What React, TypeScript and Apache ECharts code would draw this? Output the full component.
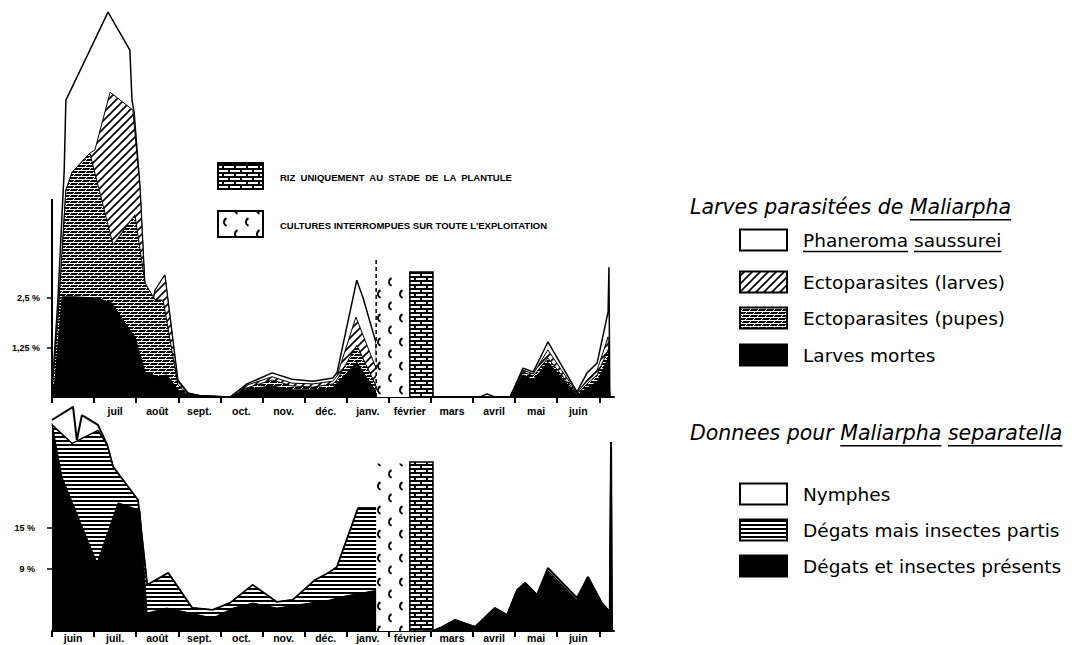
import React, { useEffect, useRef } from 'react';
import * as echarts from 'echarts';

// ---------- axes ----------
const monthTicks = [0, 1, 2, 3, 4, 5, 6, 7, 8, 9, 10, 11, 12, 13];
const monthCenters = [0.5, 1.5, 2.5, 3.5, 4.5, 5.5, 6.5, 7.5, 8.5, 9.5, 10.5, 11.5, 12.5];
const topMonthLabels = ['', 'juil', 'août', 'sept.', 'oct.', 'nov.', 'déc.', 'janv.', 'février', 'mars', 'avril', 'mai', 'juin'];
const bottomMonthLabels = ['juin', 'juil.', 'août', 'sept.', 'oct.', 'nov.', 'déc.', 'janv.', 'février', 'mars', 'avril', 'mai', 'juin'];
const topYTicks = [1.25, 2.5];
const topYLabels = ['1,25 %', '2,5 %'];
const bottomYTicks = [9, 15];
const bottomYLabels = ['9 %', '15 %'];
const topAxisLine = [[0, 0], [0, 5]];

// ---------- top chart: larves parasitées (upper boundary of each layer, % ) ----------
const phaneromaTop = [
  [0, 0.13], [0.14, 2.45], [0.29, 5.73], [0.33, 7.5], [0.9, 8.76], [1.33, 9.72], [1.85, 8.76], [1.9, 7.5],
  [1.95, 7.2], [2.09, 5.3], [2.26, 1.62], [2.45, 2.7], [2.68, 3.08], [2.99, 0.43], [3.23, 0.1], [3.52, 0.03],
  [4.23, 0], [4.63, 0.33], [5.23, 0.61], [5.7, 0.45], [6.2, 0.4], [6.67, 0.48], [6.77, 0.61], [7.24, 2.95],
  [7.39, 2.5], [7.7, 1.36], [7.74, 0], [9.05, 0], [10.17, 0], [10.33, 0.08], [10.52, 0], [10.88, 0],
  [11.19, 0.73], [11.43, 0.63], [11.78, 1.39], [12.47, 0.13], [12.71, 0.61], [12.95, 0.86], [13.21, 2.15],
  [13.23, 3.28], [13.25, 0]
];
const ectoLarvesTop = [
  [0, 0.13], [0.14, 1.94], [0.33, 5.23], [0.48, 5.68], [0.9, 6.16], [1.02, 6.24], [1.38, 7.7], [1.92, 7.25],
  [2.09, 5.3], [2.26, 1.62], [2.45, 2.7], [2.68, 3.08], [2.99, 0.38], [3.23, 0.1], [3.52, 0.03], [4.23, 0],
  [4.63, 0.3], [5.23, 0.51], [5.7, 0.35], [6.2, 0.33], [6.67, 0.4], [6.77, 0.53], [7.22, 2.02], [7.74, 0.61],
  [7.76, 0], [9.05, 0], [10.88, 0], [11.19, 0.68], [11.43, 0.58], [11.78, 1.19], [12.47, 0.1], [12.71, 0.43],
  [12.95, 0.68], [13.21, 1.52], [13.25, 0]
];
const ectoPupesTop = [
  [0, 0.13], [0.14, 1.94], [0.33, 5.23], [0.48, 5.68], [0.9, 6.16], [1.45, 3.84], [1.97, 4.6], [2.21, 2.88],
  [2.45, 2.45], [2.64, 2.45], [2.99, 0.3], [3.23, 0.08], [3.52, 0.03], [4.23, 0], [4.63, 0.23], [5.23, 0.43],
  [5.7, 0.28], [6.2, 0.25], [6.67, 0.33], [6.77, 0.43], [7.24, 1.31], [7.74, 0.18], [7.76, 0], [9.05, 0],
  [10.88, 0], [11.19, 0.63], [11.43, 0.53], [11.78, 0.98], [12.47, 0.08], [12.71, 0.33], [12.95, 0.56],
  [13.21, 1.19], [13.25, 0]
];
const larvesMortesTop = [
  [0, 0], [0.07, 0.43], [0.24, 2.53], [0.55, 2.53], [1.07, 2.5], [1.43, 2.37], [1.73, 1.87], [1.97, 1.52],
  [2.21, 0.63], [2.52, 0.51], [2.73, 0.56], [2.99, 0.18], [3.28, 0.05], [4.23, 0], [4.63, 0.2], [5.23, 0.28],
  [5.7, 0.18], [6.2, 0.18], [6.67, 0.23], [7.24, 0.88], [7.74, 0.05], [7.76, 0], [9.05, 0], [10.88, 0],
  [11.19, 0.56], [11.43, 0.43], [11.78, 0.88], [12.47, 0.05], [12.71, 0.23], [12.95, 0.38], [13.21, 0.98],
  [13.25, 0]
];

// ---------- bottom chart: Maliarpha separatella ----------
const nymphesTop = [
  [0, 30.6], [0.5, 32.5], [0.59, 27.7], [0.71, 31.3], [1.09, 29.9], [1.31, 27.0], [1.45, 23.8], [2.04, 19.0],
  [2.26, 6.67], [2.76, 8.41], [3.33, 3.33], [3.82, 3.04], [4.23, 4.06], [4.77, 6.67], [5.34, 4.2], [5.72, 4.49],
  [6.25, 7.39], [6.6, 8.55], [6.77, 9.28], [7.27, 17.8], [7.74, 17.8], [7.76, 0], [9.05, 0], [9.22, 0.43],
  [9.57, 1.59], [10.05, 0.58], [10.52, 3.33], [10.81, 2.32], [11.05, 5.94], [11.24, 6.96], [11.52, 5.22],
  [11.78, 9.13], [12.47, 4.78], [12.73, 7.83], [13.06, 4.06], [13.25, 2.75], [13.28, 27.4], [13.3, 0]
];
const degatsPartisTop = [
  [0, 29.9], [0.48, 27.2], [1.09, 29.1], [1.31, 27.0], [1.45, 23.8], [2.04, 19.0], [2.26, 6.67], [2.76, 8.41],
  [3.33, 3.33], [3.82, 3.04], [4.23, 4.06], [4.77, 6.67], [5.34, 4.2], [5.72, 4.49], [6.25, 7.39], [6.6, 8.55],
  [6.77, 9.28], [7.27, 17.8], [7.74, 17.8], [7.76, 0], [9.05, 0], [9.22, 0.43], [9.57, 1.59], [10.05, 0.58],
  [10.52, 3.33], [10.81, 2.32], [11.05, 5.94], [11.24, 6.96], [11.52, 5.22], [11.78, 8.7], [12.47, 4.4],
  [12.73, 7.83], [13.06, 4.06], [13.25, 2.75], [13.28, 27.4], [13.3, 0]
];
const degatsPresentsTop = [
  [0, 30.1], [0.24, 22.3], [1.07, 9.86], [1.57, 18.6], [2.09, 17.5], [2.26, 2.61], [2.73, 3.33], [3.28, 2.61],
  [3.82, 1.88], [4.3, 3.33], [4.77, 4.06], [5.34, 3.33], [6.6, 4.49], [6.84, 4.93], [7.74, 5.94], [7.76, 0],
  [9.05, 0], [9.22, 0.43], [9.57, 1.59], [10.05, 0.58], [10.52, 3.33], [10.81, 2.32], [11.05, 5.94],
  [11.24, 6.96], [11.52, 5.22], [11.78, 8.41], [12.47, 4.2], [12.73, 7.83], [13.06, 4.06], [13.25, 2.75],
  [13.28, 27.4], [13.3, 0]
];

// ---------- interruption blocks (months) ----------
const interruptedSpan = [7.7, 8.5];
const seedlingSpan = [8.5, 9.05];
const topBlockHeights = [3.08, 3.16];
const topDashHeight = 3.46;
const bottomBlockHeights = [24.3, 24.5];

// ---------- legends ----------
const parasiteTitle = 'Larves parasitées de Maliarpha';
const parasiteTitleUnderlined = ['Maliarpha'];
const parasiteLabels = ['Phaneroma saussurei', 'Ectoparasites (larves)', 'Ectoparasites (pupes)', 'Larves mortes'];
const parasiteUnderlined = [['Phaneroma', 'saussurei'], [], [], []];
const separatellaTitle = 'Donnees pour Maliarpha separatella';
const separatellaTitleUnderlined = ['Maliarpha', 'separatella'];
const separatellaLabels = ['Nymphes', 'Dégats mais insectes partis', 'Dégats et insectes présents'];
const blockLabels = ['RIZ  UNIQUEMENT  AU  STADE  DE  LA  PLANTULE', "CULTURES INTERROMPUES SUR TOUTE L'EXPLOITATION"];

function makePattern(w: number, h: number, draw: (ctx: CanvasRenderingContext2D) => void) {
  const c = document.createElement('canvas');
  c.width = w;
  c.height = h;
  const ctx = c.getContext('2d') as CanvasRenderingContext2D;
  ctx.fillStyle = '#fff';
  ctx.fillRect(0, 0, w, h);
  draw(ctx);
  return { image: c, repeat: 'repeat' };
}

export default function App() {
  const ref = useRef<HTMLDivElement>(null);

  useEffect(() => {
    if (!ref.current) return;
    const chart = echarts.init(ref.current, undefined, { renderer: 'svg' });

    const hatch = makePattern(8, 8, (ctx) => {
      ctx.strokeStyle = '#000';
      ctx.lineWidth = 1.6;
      ctx.beginPath();
      ctx.moveTo(-1, 9); ctx.lineTo(9, -1);
      ctx.moveTo(-1, 1); ctx.lineTo(1, -1);
      ctx.moveTo(7, 9); ctx.lineTo(9, 7);
      ctx.stroke();
    });
    const pupes = makePattern(8, 6, (ctx) => {
      ctx.fillStyle = '#000';
      ctx.fillRect(0, 0, 8, 2);
      ctx.fillRect(0, 3, 8, 2);
      ctx.strokeStyle = '#fff';
      ctx.lineWidth = 1;
      ctx.beginPath();
      ctx.moveTo(1, 2); ctx.lineTo(3, 0);
      ctx.moveTo(5, 5); ctx.lineTo(7, 3);
      ctx.stroke();
    });
    const stripes = makePattern(4, 4, (ctx) => {
      ctx.fillStyle = '#000';
      ctx.fillRect(0, 0, 4, 2);
    });
    const curly = makePattern(22, 24, (ctx) => {
      ctx.strokeStyle = '#000';
      ctx.lineWidth = 2;
      ctx.beginPath();
      ctx.arc(8, 6, 4, 0.62 * Math.PI, 1.38 * Math.PI);
      ctx.stroke();
      ctx.beginPath();
      ctx.arc(19, 18, 4, 0.62 * Math.PI, 1.38 * Math.PI);
      ctx.stroke();
    });
    const brick = makePattern(12, 8, (ctx) => {
      ctx.fillStyle = '#000';
      ctx.fillRect(0, 0, 12, 2);
      ctx.fillRect(0, 4, 12, 2);
      ctx.fillRect(0, 0, 2, 4);
      ctx.fillRect(6, 4, 2, 4);
    });

    const measureCtx = document.createElement('canvas').getContext('2d') as CanvasRenderingContext2D;
    const measure = (text: string, font: string) => {
      measureCtx.font = font;
      return measureCtx.measureText(text).width;
    };

    const monthFont = { fontSize: 10.5, fontWeight: 'bold', fontFamily: 'Liberation Sans', color: '#000' };
    const makeX = (gridIndex: number, labels: string[], margin: number) => ({
      type: 'value', gridIndex, min: 0, max: 13.35,
      axisLine: { show: true, onZero: false, lineStyle: { color: '#000', width: 2 } },
      axisTick: { show: true, customValues: monthTicks, length: 6, lineStyle: { color: '#000', width: 2 } },
      axisLabel: {
        customValues: monthCenters, margin, ...monthFont,
        formatter: (v: number) => labels[Math.round(v - 0.5)] ?? ''
      },
      splitLine: { show: false }
    });
    const makeY = (gridIndex: number, max: number, ticks: number[], labels: string[], margin: number, faint: number[]) => ({
      type: 'value', gridIndex, min: 0, max,
      axisLine: { show: false },
      axisTick: { show: true, customValues: ticks, length: 5, lineStyle: { color: '#000', width: 1.5 } },
      axisLabel: {
        customValues: ticks, margin, fontSize: 9, fontWeight: 'bold', fontFamily: 'Liberation Sans',
        color: (v: number) => (faint.indexOf(v) >= 0 ? '#bbb' : '#000'),
        formatter: (v: number) => labels[ticks.indexOf(v)] ?? ''
      },
      splitLine: { show: false }
    });

    const area = (name: string, data: number[][], idx: number, fill: any, width: number, z: number) => ({
      type: 'line', name, data, xAxisIndex: idx, yAxisIndex: idx, symbol: 'none', showSymbol: false,
      silent: true, z,
      lineStyle: { color: '#000', width },
      areaStyle: { color: fill, opacity: 1 }
    });

    const blockSeries = (idx: number, heights: number[], dash: number) => ({
      type: 'custom', xAxisIndex: idx, yAxisIndex: idx, z: 6, silent: true, clip: false,
      encode: { x: [0, 1], y: 2 },
      data: [
        [interruptedSpan[0], interruptedSpan[1], heights[0], 0, dash],
        [seedlingSpan[0], seedlingSpan[1], heights[1], 1, 0]
      ],
      renderItem: (params: any, api: any) => {
        const x0 = api.value(0), x1 = api.value(1), h = api.value(2), kind = api.value(3), d = api.value(4);
        const p0 = api.coord([x0, 0]);
        const p1 = api.coord([x1, h]);
        const children: any[] = [{
          type: 'rect',
          shape: { x: p0[0], y: p1[1], width: p1[0] - p0[0], height: p0[1] - p1[1] },
          style: kind === 1
            ? { fill: brick, stroke: '#000', lineWidth: 1.5 }
            : { fill: curly, stroke: null }
        }];
        if (d > 0) {
          const pd = api.coord([x0, d]);
          children.push({
            type: 'line',
            shape: { x1: p0[0], y1: p0[1], x2: p0[0], y2: pd[1] },
            style: { stroke: '#000', lineWidth: 1.5, lineDash: [4, 3] }
          });
        }
        return { type: 'group', children };
      }
    });

    // ---------- graphic legends ----------
    const graphic: any[] = [];
    const titleFont = 'italic 20.5px "DejaVu Sans"';
    const rowFont = '18.5px "DejaVu Sans"';
    const addText = (text: string, x: number, y: number, font: string, underlined: string[]) => {
      graphic.push({ type: 'text', x, y, style: { text, font, fill: '#000', textVerticalAlign: 'middle' } });
      underlined.forEach((word) => {
        const i = text.indexOf(word);
        const sx = x + measure(text.slice(0, i), font);
        const w = measure(word, font);
        const fs = parseFloat(font.match(/(\d+(\.\d+)?)px/)![1]);
        const uy = y + fs * 0.62;
        graphic.push({ type: 'line', shape: { x1: sx, y1: uy, x2: sx + w, y2: uy }, style: { stroke: '#000', lineWidth: 1.5 } });
      });
    };
    const addBox = (y: number, fill: any) => {
      graphic.push({ type: 'rect', shape: { x: 740, y: y - 10.5, width: 47, height: 21 }, style: { fill, stroke: '#000', lineWidth: 2 } });
    };
    addText(parasiteTitle, 690, 207, titleFont, parasiteTitleUnderlined);
    const parasiteRowsY = [240, 282, 318, 355];
    const parasiteFills = ['#fff', hatch, pupes, '#000'];
    parasiteLabels.forEach((lab, i) => {
      addBox(parasiteRowsY[i], parasiteFills[i]);
      addText(lab, 803, parasiteRowsY[i], rowFont, parasiteUnderlined[i]);
    });
    addText(separatellaTitle, 690, 433, titleFont, separatellaTitleUnderlined);
    const separatellaRowsY = [494, 530, 566];
    const separatellaFills = ['#fff', stripes, '#000'];
    separatellaLabels.forEach((lab, i) => {
      addBox(separatellaRowsY[i], separatellaFills[i]);
      addText(lab, 803, separatellaRowsY[i], rowFont, []);
    });
    // inner block legend
    const blockFills = [brick, curly];
    const blockBoxY = [163, 211];
    blockLabels.forEach((lab, i) => {
      graphic.push({ type: 'rect', shape: { x: 218, y: blockBoxY[i], width: 45, height: 26 }, style: { fill: blockFills[i], stroke: '#000', lineWidth: 2 } });
      graphic.push({ type: 'text', x: 280, y: blockBoxY[i] + 14, style: { text: lab, font: 'bold 9.5px "Liberation Sans"', fill: '#000', textVerticalAlign: 'middle' } });
    });

    const option: any = {
      animation: false,
      backgroundColor: '#fff',
      grid: [
        { left: 52, top: 9, width: 562, height: 388 },
        { left: 52, top: 400, width: 562, height: 231 }
      ],
      xAxis: [makeX(0, topMonthLabels, 8), makeX(1, bottomMonthLabels, 1)],
      yAxis: [
        makeY(0, 9.8, topYTicks, topYLabels, 12, [1.25]),
        makeY(1, 33.5, bottomYTicks, bottomYLabels, 17, [])
      ],
      series: [
        area('Phaneroma saussurei', phaneromaTop, 0, '#fff', 1.5, 2),
        area('Ectoparasites (larves)', ectoLarvesTop, 0, hatch, 1, 3),
        area('Ectoparasites (pupes)', ectoPupesTop, 0, pupes, 1, 4),
        area('Larves mortes', larvesMortesTop, 0, '#000', 1, 5),
        area('Nymphes', nymphesTop, 1, '#fff', 2, 2),
        area('Dégats mais insectes partis', degatsPartisTop, 1, stripes, 1.5, 3),
        area('Dégats et insectes présents', degatsPresentsTop, 1, '#000', 1, 5),
        blockSeries(0, topBlockHeights, topDashHeight),
        blockSeries(1, bottomBlockHeights, 0),
        {
          type: 'line', data: topAxisLine, xAxisIndex: 0, yAxisIndex: 0, symbol: 'none', silent: true, z: 7,
          lineStyle: { color: '#000', width: 2 }
        }
      ],
      graphic
    };
    chart.setOption(option);
    return () => chart.dispose();
  }, []);

  return <div ref={ref} style={{ position: 'absolute', left: 0, top: 0, width: 1077, height: 645 }} />;
}
